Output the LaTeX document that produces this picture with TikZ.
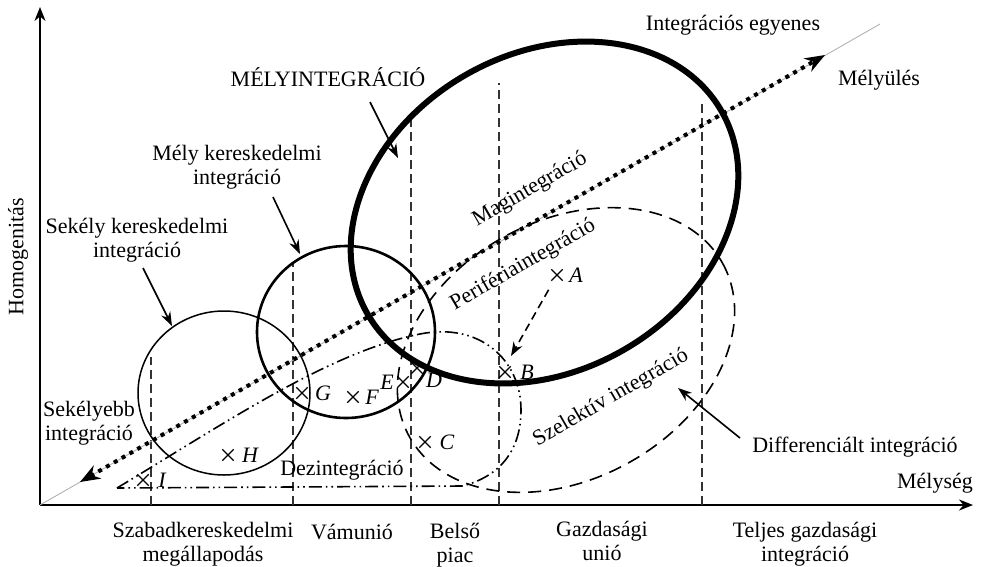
\documentclass[tikz,border=0pt]{standalone}
\usepackage{fontspec}
\setmainfont{Liberation Serif}
\usetikzlibrary{arrows.meta,shapes.misc}
\begin{document}
\begin{tikzpicture}[x=1pt,y=-1pt,
  lbl/.style={font=\fontsize{22}{24}\selectfont, inner sep=0pt, align=center},
  ptl/.style={font=\fontsize{22}{24}\selectfont\itshape, inner sep=0pt},
  crs/.style={draw, cross out, line width=1.3pt, minimum size=10pt, inner sep=0pt},
  axisline/.style={line width=2pt, -{Stealth[length=14pt,width=11pt]}},
  vdash/.style={line width=1.2pt, dash pattern=on 9pt off 5pt, black!80},
  ptr/.style={line width=1.6pt, -{Stealth[length=14pt,width=10pt]}},
  intline/.style={line width=0.9pt, black!30},
  dotarrow/.style={line width=4pt, dash pattern=on 4pt off 5pt,
     {Stealth[length=20pt,width=15pt]}-{Stealth[length=20pt,width=15pt]}},
  thinring/.style={line width=1.5pt},
  midring/.style={line width=2.6pt},
  thickring/.style={line width=6pt},
  dashring/.style={line width=1.6pt, dash pattern=on 13pt off 8pt},
  ddot/.style={line width=1.6pt, dash pattern=on 13pt off 4pt on 1.6pt off 4pt on 1.6pt off 4pt},
  abarrow/.style={line width=1.6pt, dash pattern=on 8pt off 5pt, -{Stealth[length=14pt,width=10pt]}}
]
\useasboundingbox (0,0) rectangle (983,566);
% axes
\coordinate (O) at (40,505);
\coordinate (Ytop) at (40,7);
\coordinate (Xend) at (973,505);
\draw[axisline] (O) -- (Ytop);
\draw[axisline] (O) -- (Xend);
% vertical dashed lines
\coordinate (v1b) at (151,505); \coordinate (v1t) at (151,357);
\coordinate (v2b) at (293,505); \coordinate (v2t) at (293,263);
\coordinate (v3b) at (411,505); \coordinate (v3t) at (411,120);
\coordinate (v4b) at (499,505); \coordinate (v4t) at (499,83);
\coordinate (v5b) at (702,505); \coordinate (v5t) at (702,100);
\draw[vdash] (v1b) -- (v1t);
\draw[vdash] (v2b) -- (v2t);
\draw[vdash] (v3b) -- (v3t);
\draw[vdash] (v4b) -- (v4t);
\draw[vdash] (v5b) -- (v5t);
% integration line
\coordinate (Iend) at (880,24);
\draw[intline] (O) -- (Iend);
% rings
\draw[thinring] (224,393) ellipse [x radius=86, y radius=82];
\draw[midring] (346,332) ellipse [x radius=89, y radius=86];
\draw[dashring, rotate around={29:(566,350)}] (566,350) ellipse [x radius=179, y radius=129];
\draw[ddot] (117,488) .. controls (230,420) and (330,352) .. (420,334)
  .. controls (480,322) and (521,360) .. (521,410)
  .. controls (521,455) and (495,478) .. (462,486) -- cycle;
\draw[thickring, rotate around={29.8:(544.5,212.5)}] (544.5,212.5) ellipse [x radius=204, y radius=158.6];
% dotted arrow
\coordinate (Dlo) at (80,482);
\coordinate (Dhi) at (825,55);
\draw[dotarrow] (Dlo) -- (Dhi);
% texts
\node[lbl, rotate=90] (hom) at (18,257) {Homogenitás};
\node[lbl] (integ) at (733,25) {Integrációs egyenes};
\node[lbl] (melyules) at (879,80) {Mélyülés};
\node[lbl] (melyint) at (328,77) {MÉLYINTEGRÁCIÓ};
\node[lbl] (melyker) at (237,167) {Mély kereskedelmi\\integráció};
\node[lbl] (sekker) at (137,240) {Sekély kereskedelmi\\integráció};
\node[lbl] (sekebb) at (89,423) {Sekélyebb\\integráció};
\node[lbl] (dezint) at (342,470) {Dezintegráció};
\node[lbl] (szabad) at (203,544) {Szabadkereskedelmi\\megállapodás};
\node[lbl] (vamunio) at (352,532) {Vámunió};
\node[lbl] (belso) at (455,545) {Belső\\piac};
\node[lbl] (gazd) at (602,541) {Gazdasági\\unió};
\node[lbl] (teljes) at (805,544) {Teljes gazdasági\\integráció};
\node[lbl] (melyseg) at (935,483) {Mélység};
\node[lbl] (diff) at (855,447) {Differenciált integráció};
\node[lbl, rotate=30] (magint) at (530,190) {Magintegráció};
\node[lbl, rotate=30] (perif) at (523,265) {Perifériaintegráció};
\node[lbl, rotate=30] (szel) at (611,398) {Szelektív integráció};
% pointers
\coordinate (pMI) at (398,158);
\coordinate (pMK) at (300,254);
\coordinate (pSK) at (172,326);
\coordinate (pDI) at (678,388);
\coordinate (sMI) at (370,102);
\coordinate (sMK) at (273,197);
\coordinate (sSK) at (143,268);
\coordinate (sDI) at (740,438);
\draw[ptr] (sMI) -- (pMI);
\draw[ptr] (sMK) -- (pMK);
\draw[ptr] (sSK) -- (pSK);
\draw[ptr] (sDI) -- (pDI);
% points
\node[crs] (xA) at (557,275) {}; \node[ptl] (lA) at (576,275) {A};
\node[crs] (xB) at (505,372) {}; \node[ptl] (lB) at (527,372) {B};
\node[crs] (xC) at (425,442) {}; \node[ptl] (lC) at (447,442) {C};
\node[crs] (xD) at (417,368) {}; \node[ptl] (lD) at (434,380) {D};
\node[crs] (xE) at (403,382) {}; \node[ptl] (lE) at (387,382) {E};
\node[crs] (xF) at (353,397) {}; \node[ptl] (lF) at (372,397) {F};
\node[crs] (xG) at (302,393) {}; \node[ptl] (lG) at (323,393) {G};
\node[crs] (xH) at (228,455) {}; \node[ptl] (lH) at (250,455) {H};
\node[crs] (xI) at (143,480) {}; \node[ptl] (lI) at (162,480) {I};
\coordinate (abE) at (511,356);
\draw[abarrow, shorten <=17pt] (xA.center) -- (abE);
\end{tikzpicture}
\end{document}
